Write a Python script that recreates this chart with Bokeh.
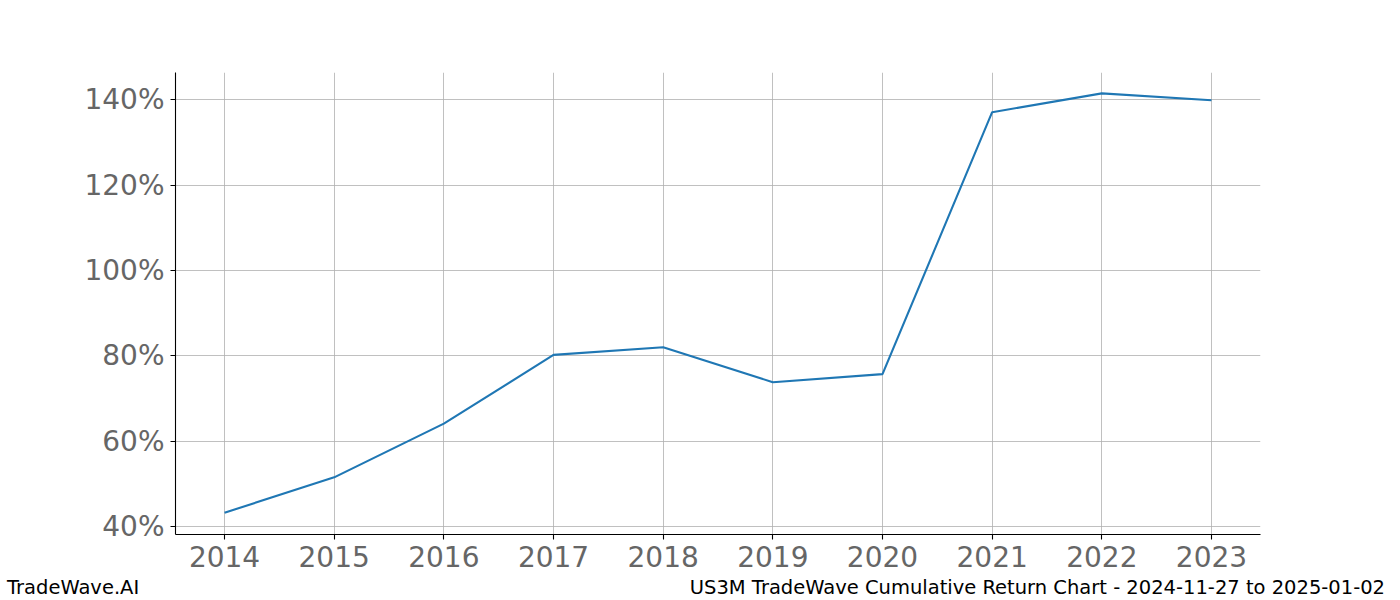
from bokeh.plotting import figure
from bokeh.models import Range1d, FixedTicker, PrintfTickFormatter, Div
from bokeh.layouts import column
from bokeh.embed import file_html
from bokeh.resources import INLINE

years = [2014, 2015, 2016, 2017, 2018, 2019, 2020, 2021, 2022, 2023]
returns = [43.2, 51.5, 64.1, 80.2, 82.0, 73.8, 75.7, 137.1, 141.5, 139.9]
y_ticks = [40, 60, 80, 100, 120, 140]
footer_left = "TradeWave.AI"
footer_right = "US3M TradeWave Cumulative Return Chart - 2024-11-27 to 2025-01-02"

W = 1400
H1 = 578
H2 = 22
p = figure(width=W, height=H1, output_backend="svg", toolbar_location=None,
           x_range=Range1d(2013.553, 2023.447), y_range=Range1d(38.1, 146.4),
           min_border_left=175, min_border_right=140, min_border_top=72, min_border_bottom=44)
p.outline_line_color = None
p.background_fill_color = "white"
p.border_fill_color = "white"

p.line(years, returns, line_color="#1f77b4", line_width=2.1)

for ax in (p.xaxis, p.yaxis):
    ax.axis_line_color = "black"
    ax.axis_line_width = 1.1
    ax.major_tick_line_color = "black"
    ax.major_tick_line_width = 1.1
    ax.major_tick_out = 5
    ax.major_tick_in = 0
    ax.minor_tick_line_color = None
    ax.major_label_text_font = "DejaVu Sans"
    ax.major_label_text_font_size = "28px"
    ax.major_label_text_color = "#666666"

p.xaxis.ticker = FixedTicker(ticks=years)
p.xaxis.major_label_standoff = 6
p.yaxis.ticker = FixedTicker(ticks=y_ticks)
p.yaxis.formatter = PrintfTickFormatter(format="%d%%")
p.yaxis.major_label_standoff = 6

p.xgrid.ticker = FixedTicker(ticks=years)
p.ygrid.ticker = FixedTicker(ticks=y_ticks)
for g in (p.xgrid, p.ygrid):
    g.grid_line_color = "#b0b0b0"
    g.grid_line_width = 0.8

span_style = "position:absolute;top:0px;white-space:nowrap;line-height:19px;"
footer_html = (
    '<div style="position:relative;width:%dpx;height:%dpx;font-family:\'DejaVu Sans\';'
    'font-size:19.5px;color:black;">'
    '<span style="%sleft:7px;">%s</span>'
    '<span style="%sright:15px;">%s</span>'
    '</div>' % (W, H2, span_style, footer_left, span_style, footer_right)
)
footer = Div(text=footer_html, width=W, height=H2, margin=0)

open("out.html", "w").write(file_html(column(p, footer, spacing=0), INLINE))
